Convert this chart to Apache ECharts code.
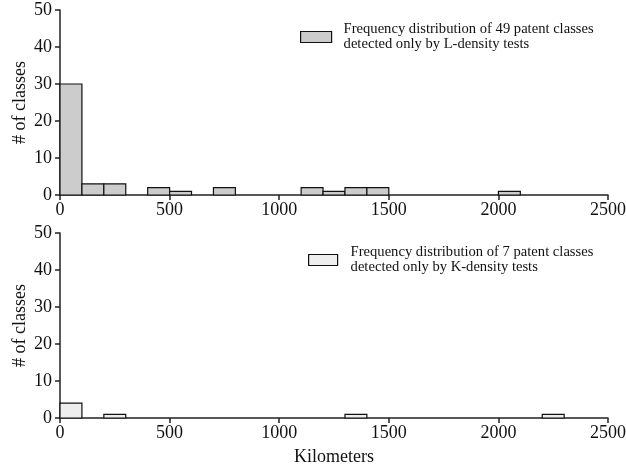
<!DOCTYPE html>
<html>
<head>
<meta charset="utf-8">
<script src="https://cdn.jsdelivr.net/npm/echarts@6/dist/echarts.min.js"></script>
<style>html,body{margin:0;padding:0;background:#fff}#c{width:626px;height:470px}</style>
</head>
<body>
<div id="c"></div>
<script>
// Bin lower edges (km), bin width 100 km
const binStarts = [0,100,200,300,400,500,600,700,800,900,1000,1100,1200,1300,1400,1500,1600,1700,1800,1900,2000,2100,2200,2300,2400];
const binWidth = 100;
// Counts: L-density only (49 classes)
const countsL = [30,3,3,0,2,1,0,2,0,0,0,2,1,2,2,0,0,0,0,0,1,0,0,0,0];
// Counts: K-density only (7 classes)
const countsK = [4,0,1,0,0,0,0,0,0,0,0,0,0,1,0,0,0,0,0,0,0,0,1,0,0];
const xTicks = [0,500,1000,1500,2000,2500];
const yTicks = [0,10,20,30,40,50];
const nameL = 'Frequency distribution of 49 patent classes\ndetected only by L-density tests';
const nameK = 'Frequency distribution of 7 patent classes\ndetected only by K-density tests';
const xName = 'Kilometers';
const yName = '# of classes';

const FONT = '"Liberation Serif", "Times New Roman", serif';
const fillL = '#cccccc', fillK = '#eeeeee';

function mkData(counts){ return binStarts.map((s,i)=>[s, s+binWidth, counts[i]]); }
function mkRender(fill){
  return function(params, api){
    const x0 = api.value(0), x1 = api.value(1), y = api.value(2);
    if (!(y > 0)) return null;
    const p0 = api.coord([x0, y]);
    const p1 = api.coord([x1, 0]);
    return {type:'rect', shape:{x:p0[0], y:p0[1], width:p1[0]-p0[0], height:p1[1]-p0[1]},
      style:{fill:fill, stroke:'#111', lineWidth:1.2}};
  };
}
function xAxis(idx, showName){
  return {type:'value', gridIndex:idx, min:xTicks[0], max:xTicks[xTicks.length-1], interval:500,
    name: showName ? xName : '', nameLocation:'middle', nameGap:30,
    nameTextStyle:{fontFamily:FONT, fontSize:18, color:'#111'},
    axisLine:{show:true, lineStyle:{color:'#222', width:1.5}},
    axisTick:{show:true, length:5, lineStyle:{color:'#222', width:1.5}},
    axisLabel:{fontFamily:FONT, fontSize:18, color:'#111', margin:6, formatter:v=>String(v)},
    splitLine:{show:false}};
}
function yAxis(idx){
  return {type:'value', gridIndex:idx, min:yTicks[0], max:yTicks[yTicks.length-1], interval:10,
    name:yName, nameLocation:'middle', nameGap:31, nameRotate:90, nameMoveOverlap:false,
    nameTextStyle:{fontFamily:FONT, fontSize:18, color:'#111'},
    axisLine:{show:true, lineStyle:{color:'#222', width:1.5}},
    axisTick:{show:true, length:5, lineStyle:{color:'#222', width:1.5}},
    axisLabel:{fontFamily:FONT, fontSize:18, color:'#111', margin:8, formatter:v=>String(v)},
    splitLine:{show:false}};
}
const chart = echarts.init(document.getElementById('c'), null, {renderer:'canvas'});
chart.setOption({
  animation:false,
  backgroundColor:'#fff',
  grid:[
    {left:60, right:18, top:10, height:185, containLabel:false, outerBoundsMode:'none'},
    {left:60, right:18, top:233, height:185, containLabel:false, outerBoundsMode:'none'}
  ],
  xAxis:[xAxis(0,false), xAxis(1,true)],
  yAxis:[yAxis(0), yAxis(1)],
  legend:[
    {left:300, top:22, itemWidth:31, itemHeight:11, padding:0, selectedMode:false,
     textStyle:{fontFamily:FONT, fontSize:14.6, color:'#111', lineHeight:15, padding:[0,0,0,7]},
     data:[{name:nameL, icon:'rect', itemStyle:{color:fillL, borderColor:'#111', borderWidth:1.2}}]},
    {left:308, top:245, itemWidth:29, itemHeight:11, padding:0, selectedMode:false,
     textStyle:{fontFamily:FONT, fontSize:14.6, color:'#111', lineHeight:15, padding:[0,0,0,8]},
     data:[{name:nameK, icon:'rect', itemStyle:{color:fillK, borderColor:'#111', borderWidth:1.2}}]}
  ],
  series:[
    {type:'custom', name:nameL, xAxisIndex:0, yAxisIndex:0, data:mkData(countsL),
     encode:{x:[0,1], y:2}, renderItem:mkRender(fillL), itemStyle:{color:fillL}},
    {type:'custom', name:nameK, xAxisIndex:1, yAxisIndex:1, data:mkData(countsK),
     encode:{x:[0,1], y:2}, renderItem:mkRender(fillK), itemStyle:{color:fillK}}
  ]
});
</script>
</body>
</html>
